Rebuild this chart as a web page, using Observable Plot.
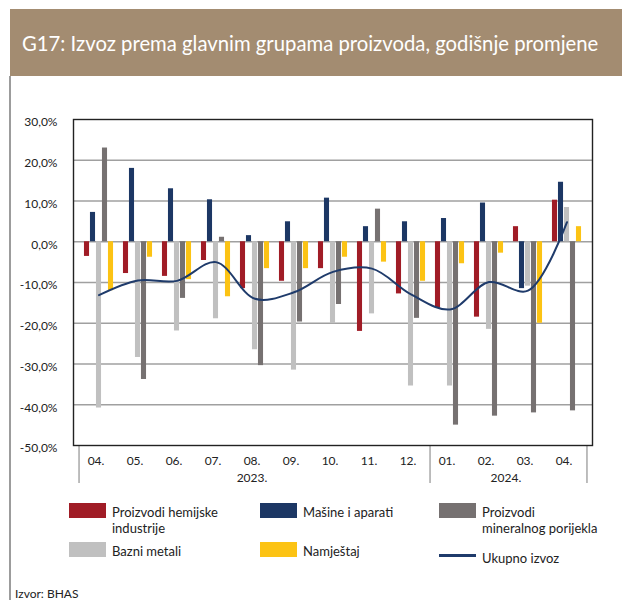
<!DOCTYPE html>
<html><head><meta charset="utf-8">
<script src="https://cdn.jsdelivr.net/npm/d3@7"></script>
<script src="https://cdn.jsdelivr.net/npm/@observablehq/plot@0.6"></script>
<style>
body{margin:0;background:#fff;font-family:Lato, "Open Sans", sans-serif;color:#222;}
#wrap{position:relative;width:622px;height:600px;overflow:hidden;}
#title{position:absolute;left:10px;top:9px;width:612px;height:67px;background:#a38c71;color:#fff;font-size:20.3px;line-height:68px;padding-left:12px;box-sizing:border-box;white-space:nowrap;}
#border{position:absolute;left:9px;top:76px;width:2px;height:524px;background:#9c9c9c;}
#chart{position:absolute;left:0;top:100px;}
.sw{position:absolute;width:37px;height:15px;}
.ln{position:absolute;width:37px;height:3px;}
.lt{position:absolute;font-size:13px;line-height:16px;color:#222;}
#src{position:absolute;left:15px;top:586px;font-size:12px;color:#222;}
</style>
</head><body>
<div id="wrap">
  <div id="title">G17: Izvoz prema glavnim grupama proizvoda, godišnje promjene</div>
  <div id="border"></div>
  <div id="chart"></div>
  <div id="legend"></div>
  <div id="src">Izvor: BHAS</div>
</div>
<script>
const periods = ["2023-04","2023-05","2023-06","2023-07","2023-08","2023-09","2023-10","2023-11","2023-12","2024-01","2024-02","2024-03","2024-04"];
const monthLabels = ["04.","05.","06.","07.","08.","09.","10.","11.","12.","01.","02.","03.","04."];
const seriesNames = ["Proizvodi hemijske industrije","Mašine i aparati","Bazni metali","Proizvodi mineralnog porijekla","Namještaj"];
const hemijske  = [-3.6,-7.8,-8.5,-4.6,-11.5,-9.7,-6.6,-22.0,-12.8,-16.3,-18.5,3.7,10.2];
const masine    = [7.2,18.0,13.0,10.3,1.5,4.9,10.7,3.7,4.9,5.7,9.5,-11.5,14.6];
const bazni     = [-40.8,-28.4,-21.9,-18.9,-26.5,-31.5,-20.1,-17.7,-35.4,-35.4,-21.5,-10.9,8.4];
const mineralni = [23.0,-33.8,-13.9,1.1,-30.4,-19.7,-15.4,8.0,-18.8,-45.0,-42.8,-42.0,-41.5];
const namjestaj = [-12.0,-3.8,-9.3,-13.5,-6.6,-6.6,-3.8,-5.0,-9.7,-5.4,-2.8,-20.0,3.7];
const ukupno    = [-13.1,-9.5,-9.6,-5.0,-14.0,-12.4,-7.4,-6.6,-12.9,-16.6,-9.9,-12.0,4.8];
const lineName = "Ukupno izvoz";
const years = [{label:"2023.", mid:"2023-08", shift:0},{label:"2024.", mid:"2024-02", shift:0.5}];
const yTicks = [-50,-40,-30,-20,-10,0,10,20,30];
const colors = ["#a01c26","#1c3764","#c0c0c0","#767171","#fcc314"];
const lineColor = "#1f3b6b";

const seriesValues = [hemijske, masine, bazni, mineralni, namjestaj];
const W = 622, H = 400, mL = 73, mR = 30, mT = 19, mB = 55;
const bw = (W - mL - mR) / periods.length;
const barW = 6;
const side = (bw - barW) / 2;

const marks = [
  Plot.gridY(yTicks.filter(t => t > -50 && t < 30), {stroke:"#a0a0a0", strokeOpacity:1, strokeWidth:1.3}),
];
seriesValues.forEach((vals, i) => {
  const rows = periods.map((p, j) => ({period:p, value:vals[j]}));
  marks.push(Plot.barY(rows, {x:"period", y:"value", fill:colors[i],
    insetLeft: side + (i-2)*barW, insetRight: side - (i-2)*barW}));
});
marks.push(Plot.line(periods.map((p,j)=>({period:p, value:ukupno[j]})), {x:"period", y:"value", stroke:lineColor, strokeWidth:2, curve:"catmull-rom"}));
marks.push(Plot.ruleX(["2023-04","2024-01"], {x:d=>d, dx:-bw/2, y1:-50, y2:-59.3, stroke:"#a8a8a8", strokeWidth:1.5}));
marks.push(Plot.ruleX(["2024-04"], {x:d=>d, dx:bw/2, y1:-50, y2:-59.3, stroke:"#a8a8a8", strokeWidth:1.5}));
marks.push(Plot.frame({stroke:"#222", strokeWidth:1.4}));
years.forEach(y => marks.push(Plot.text([y], {x:"mid", text:"label", frameAnchor:"bottom", dy:36, dx:y.shift*bw - 3, fontSize:12, fill:"#222"})));
marks.push(Plot.axisY({ticks:yTicks, tickSize:0, tickPadding:16, dy:3, tickFormat:d => d.toFixed(1).replace(".", ",") + "%", fontSize:12}));
marks.push(Plot.axisX({tickSize:0, tickPadding:11, dx:-3, tickFormat:d => monthLabels[periods.indexOf(d)], fontSize:12}));

const chart = Plot.plot({
  width: W, height: H,
  marginLeft: mL, marginRight: mR, marginTop: mT, marginBottom: mB,
  style: {fontFamily:"Lato, 'Open Sans', sans-serif", fontSize:"12px", color:"#222", background:"transparent"},
  x: {type:"band", domain: periods, padding:0, label:null},
  y: {domain:[-50,30], label:null},
  marks
});
document.getElementById("chart").appendChild(chart);

// legend
const legend = document.getElementById("legend");
const items = [
  {name:"Proizvodi hemijske<br>industrije", color:colors[0], x:69, y:503},
  {name:"Mašine i aparati", color:colors[1], x:260, y:503},
  {name:"Proizvodi<br>mineralnog porijekla", color:colors[3], x:439, y:503},
  {name:"Bazni metali", color:colors[2], x:69, y:542},
  {name:"Namještaj", color:colors[4], x:260, y:542},
];
items.forEach(it => {
  const s = document.createElement("div"); s.className="sw";
  s.style.left = it.x+"px"; s.style.top = it.y+"px"; s.style.background = it.color;
  legend.appendChild(s);
  const t = document.createElement("div"); t.className="lt";
  t.style.left = (it.x+43)+"px"; t.style.top = (it.y+1)+"px"; t.innerHTML = it.name;
  legend.appendChild(t);
});
const l = document.createElement("div"); l.className="ln";
l.style.left="439px"; l.style.top="554px"; l.style.background=lineColor; legend.appendChild(l);
const lt = document.createElement("div"); lt.className="lt";
lt.style.left="482px"; lt.style.top="550px"; lt.textContent=lineName; legend.appendChild(lt);
</script>
</body></html>
